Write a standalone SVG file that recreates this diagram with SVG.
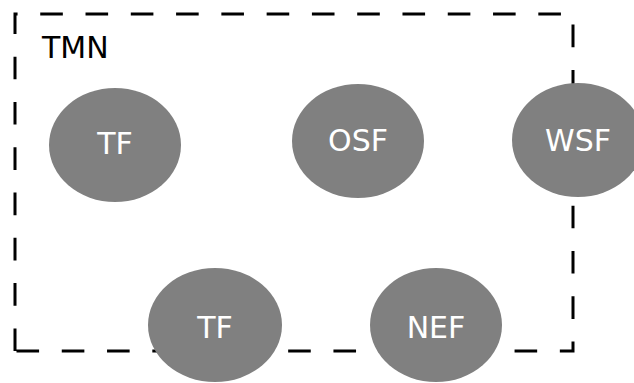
<svg xmlns="http://www.w3.org/2000/svg" width="634" height="383" viewBox="0 0 634 383">
<style>
.frame{fill:none;stroke:#000;stroke-width:3;stroke-dasharray:22.6 22.68}
.n ellipse{fill:#808080}
.n text{fill:#fff;font-family:"DejaVu Sans",sans-serif;font-size:30px;text-anchor:middle}
.lbl{fill:#000;font-family:"DejaVu Sans",sans-serif;font-size:30px}
</style>
<g id="tmn">
<path class="frame" d="M15,351 V14 H573 V351 Z"/>
<text class="lbl" x="42" y="58">TMN</text>
</g>
<g id="connectors"></g>
<g id="tf1" class="n"><ellipse cx="115" cy="145" rx="66" ry="57"/><text x="115" y="154">TF</text></g>
<g id="osf" class="n"><ellipse cx="358" cy="141" rx="66" ry="57"/><text x="358" y="151">OSF</text></g>
<g id="wsf" class="n"><ellipse cx="578" cy="140" rx="66" ry="57"/><text x="578" y="151">WSF</text></g>
<g id="tf2" class="n"><ellipse cx="215" cy="325" rx="67" ry="57"/><text x="215" y="338">TF</text></g>
<g id="nef" class="n"><ellipse cx="436" cy="325" rx="66" ry="57"/><text x="436" y="338">NEF</text></g>
</svg>
